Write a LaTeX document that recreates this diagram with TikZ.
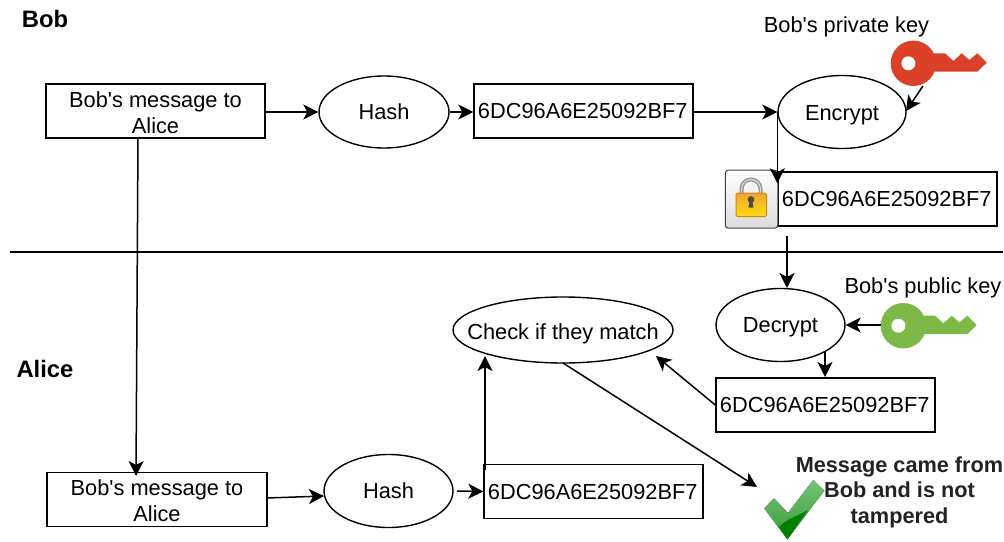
\documentclass[tikz,border=0pt]{standalone}
\usepackage{fontspec}
\newfontfamily\diagfont{Liberation Sans}
\usetikzlibrary{arrows.meta,shapes.geometric}
\definecolor{keyred}{HTML}{DA4128}
\definecolor{keygreen}{HTML}{7DB946}
\definecolor{boldtxt}{HTML}{222222}
\definecolor{ticktop}{HTML}{74C474}
\definecolor{tickmid}{HTML}{3A9C3A}
\definecolor{tickdark}{HTML}{008000}
\definecolor{lockorange}{HTML}{F2A52E}
\definecolor{lockyellow}{HTML}{FFDC10}
\definecolor{lockedge}{HTML}{C98A20}
\tikzset{
  every node/.style={font=\diagfont\fontsize{21.8}{26}\selectfont},
  box/.style={draw,line width=1.4pt,rectangle,inner sep=0pt,minimum width=219pt,minimum height=54pt,align=center,text height=15.8pt,text depth=0pt},
  msgbox/.style={box,text height=44pt,text depth=0pt},
  oval/.style={draw,line width=1.4pt,ellipse,inner sep=0pt,align=center,text height=15.8pt,text depth=0pt},
  label/.style={inner sep=0pt,align=center},
  heading/.style={inner sep=0pt,font=\diagfont\fontsize{23.8}{28}\selectfont\bfseries},
  conn/.style={line width=1.5pt,-{Stealth[length=15pt,width=15pt,inset=4pt]}},
  keyicon/.pic={
    \fill[pic actions] (0,0) circle (22.7);
    \fill[pic actions] (10,-10) -- (31.6,-10) -- (40,-2.3) -- (48.3,-10) -- (56,-3.3) -- (64,-10) -- (73.3,-0.7) -- (64,8.4) -- (10,8.4) -- cycle;
    \fill[white] (-5,0) circle (7);
  }
}
\begin{document}
\begin{tikzpicture}[x=1pt,y=-1pt]
\useasboundingbox (0,0) rectangle (1004,541);
% nodes
\node[msgbox] (msgA) at (155.5,111) {Bob's message to\\Alice};
\node[oval,minimum width=130pt,minimum height=72pt] (hashA) at (384,112) {Hash};
\node[box] (hexA) at (583.5,111) {\hspace*{-1.5pt}6DC96A6E25092BF7};
\node[oval,minimum width=128pt,minimum height=73pt,text height=17pt] (enc) at (842,112) {Encrypt};
\node[box] (hexB) at (887.5,199) {\hspace*{-1.5pt}6DC96A6E25092BF7};
\node[oval,minimum width=129pt,minimum height=73pt] (dec) at (780.5,325) {Decrypt};
\node[box] (hexC) at (825.5,405) {\hspace*{-1.5pt}6DC96A6E25092BF7};
\node[oval,minimum width=220pt,minimum height=66pt,inner xsep=-25pt,text height=18.8pt] (chk) at (563,330) {Check if they match};
\node[oval,minimum width=129pt,minimum height=73pt] (hashB) at (388.5,491) {Hash};
\node[box] (hexD) at (593.5,491.5) {\hspace*{-1.5pt}6DC96A6E25092BF7};
\node[msgbox,minimum width=220pt] (msgB) at (157,499.5) {Bob's message to\\Alice};
\node[heading] (bob) at (45,19) {Bob};
\node[heading] (alice) at (45,369) {Alice};
\node[label] (privlbl) at (846.5,26.5) {Bob's private key};
\node[label] (publbl) at (923,287.5) {Bob's public key};
\node[label,font=\diagfont\fontsize{21.7}{25.5}\selectfont\bfseries,text=boldtxt] (okmsg) at (899.5,492) {Message came from\\Bob and is not\\tampered};
% divider
\coordinate (divL) at (10,252);
\coordinate (divR) at (1003,252);
\draw[line width=1.2pt] (divL) -- (divR);
% key icons
\pic[fill=keyred] at (913.4,63.3) {keyicon};
\pic[fill=keygreen] at (903.4,325.7) {keyicon};
% lock icon
\node[draw=black!75,line width=1pt,rounded corners=3pt,minimum width=52.5pt,minimum height=58pt,inner sep=0pt,top color=white,bottom color=black!14] (lock) at (751.5,199.2) {};
\draw[black!42,line width=4pt] (741.5,194) -- (741.5,189) arc[start angle=180,end angle=360,radius=9.5] -- (760.5,194);
\draw[black!15,line width=1.2pt] (741.5,194) -- (741.5,189) arc[start angle=180,end angle=360,radius=9.5] -- (760.5,194);
\draw[draw=lockedge,line width=1pt,rounded corners=1.5pt,top color=lockorange,bottom color=lockyellow] (736,193) rectangle (766.5,216.7);
\fill[black!70] (751,199.5) circle (3.4);
\fill[black!70] (749.7,200) -- (752.3,200) -- (753.5,207.5) -- (748.5,207.5) -- cycle;
% check mark
\fill[top color=ticktop,bottom color=tickmid] (764.3,508.3) -- (774,498.3) -- (788,513) -- (813.3,480) -- (824.3,490.7) -- (787.3,539.3) -- cycle;
\fill[tickdark] (779,527) .. controls (785,520) and (797,516) .. (808,510) -- (787.3,539.3) -- cycle;
% free ends of connectors
\coordinate (lockIn) at (enc.west |- hexB.north);
\coordinate (lockTip) at ([yshift=-12pt]lockIn);
\coordinate (keyOutA) at (923,86);
\coordinate (keyInA) at (906,111);
\coordinate (hexBOut) at (787,236);
\coordinate (decTop) at (787,288);
\coordinate (keyOutB) at (881,325);
\coordinate (msgBIn) at (136,476);
\coordinate (msgAOut) at (138,138);
\coordinate (decOut) at (825,351);
\coordinate (hexCIn) at (825,377);
\coordinate (chkInC) at (656,356);
\coordinate (chkOut) at (563,363);
\coordinate (tickIn) at (757,487);
\coordinate (hashBOut) at (457,491);
\coordinate (msgBOut) at (267,498);
\coordinate (hashBIn) at (324,496);
\coordinate (hexDOut) at (485,470);
\coordinate (chkInD) at (485,356);
% connectors
\draw[conn] (msgA.east |- hashA.west) -- (hashA.west);
\draw[conn] (hashA.east) -- (hexA.west |- hashA.east);
\draw[conn] (hexA.east |- enc.west) -- (enc.west);
\draw[conn] (enc.west) -- (lockTip);
\draw[conn] (keyOutA) -- (keyInA);
\draw[conn] (msgAOut) -- (msgBIn);
\draw[conn] (hexBOut) -- (decTop);
\draw[conn] (keyOutB) -- (dec.east);
\draw[conn] (decOut) -- (hexCIn);
\draw[conn] (hexC.west) -- (chkInC);
\draw[conn] (chkOut) -- (tickIn);
\draw[conn] (msgBOut) -- (hashBIn);
\draw[conn] (hashBOut) -- (hexD.west);
\draw[conn] (hexDOut) -- (chkInD);
\end{tikzpicture}
\end{document}
